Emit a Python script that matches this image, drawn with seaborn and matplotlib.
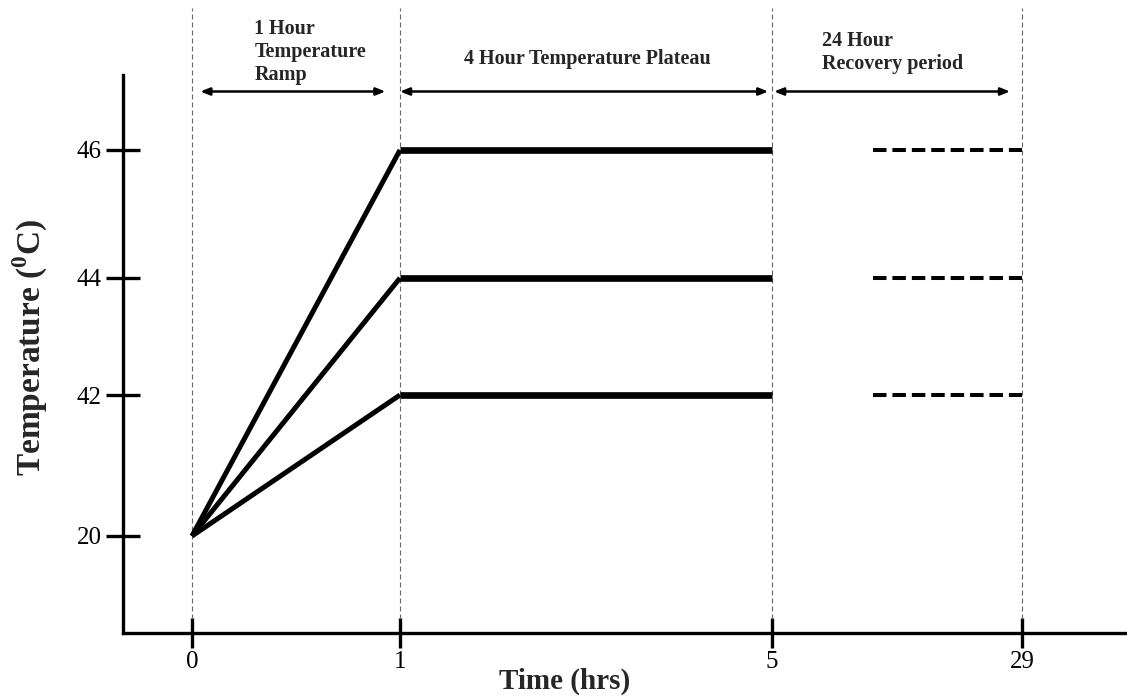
import numpy as np
import pandas as pd
import matplotlib
matplotlib.use("Agg")
import matplotlib.pyplot as plt
import matplotlib.transforms as mtransforms
import seaborn as sns

# ---- data -------------------------------------------------------------
time_ticks = [0, 1, 5, 29]              # hours
temp_ticks = [20, 42, 44, 46]           # degrees C
start_temp = 20
target_temps = [42, 44, 46]
ramp_end = 1
plateau_end = 5
recovery_start = 14.7
recovery_end = 29
phase_labels = ["1 Hour\nTemperature\nRamp",
                "4 Hour Temperature Plateau",
                "24 Hour\nRecovery period"]
phase_arrows = [(0.04, 0.93), (1.0, 4.96), (5.2, 27.85)]
x_label = "Time (hrs)"
y_label = r"Temperature ($^{\mathbf{0}}$C)"

# ---- schematic (piecewise linear) axis scales -------------------------
TIME_POS = [0, 208, 580, 830]
TEMP_POS = [0, 141, 258, 386]


def piecewise(vals, pos):
    vals = np.asarray(vals, float)
    pos = np.asarray(pos, float)

    def build(a, b):
        s0 = (b[1] - b[0]) / (a[1] - a[0])
        s1 = (b[-1] - b[-2]) / (a[-1] - a[-2])

        def f(v):
            v = np.asarray(v, float)
            out = np.interp(v, a, b)
            out = np.where(v < a[0], b[0] + (v - a[0]) * s0, out)
            out = np.where(v > a[-1], b[-1] + (v - a[-1]) * s1, out)
            return out
        return f
    return build(vals, pos), build(pos, vals)


tx_fwd, tx_inv = piecewise(time_ticks, TIME_POS)
ty_fwd, ty_inv = piecewise(temp_ticks, TEMP_POS)

# ---- long-form tables for seaborn --------------------------------------
ramp = pd.DataFrame({
    "level": np.repeat(target_temps, 2),
    "time": [0, ramp_end] * len(target_temps),
    "temp": np.ravel([[start_temp, t] for t in target_temps]),
})
plateau = pd.DataFrame({
    "level": np.repeat(target_temps, 2),
    "time": [ramp_end, plateau_end] * len(target_temps),
    "temp": np.repeat(target_temps, 2),
})
recovery = pd.DataFrame({
    "level": np.repeat(target_temps, 2),
    "time": [recovery_start, recovery_end] * len(target_temps),
    "temp": np.repeat(target_temps, 2),
})

# ---- style --------------------------------------------------------------
sns.set_style("white")
plt.rcParams["font.family"] = ["Liberation Serif", "DejaVu Serif"]
plt.rcParams["mathtext.fontset"] = "custom"
plt.rcParams["mathtext.rm"] = "Liberation Serif:bold"
plt.rcParams["mathtext.bf"] = "Liberation Serif:bold"

W, H = 1127, 697
fig = plt.figure(figsize=(W / 100, H / 100), dpi=100)
ax_left, ax_bottom, ax_top = 123, 633, 5
ax = fig.add_axes([ax_left / W, 1 - ax_bottom / H,
                   (W - ax_left) / W, (ax_bottom - ax_top) / H])
ax.set_xscale("function", functions=(tx_fwd, tx_inv))
ax.set_yscale("function", functions=(ty_fwd, ty_inv))
ax.set_xlim(float(tx_inv(-69)), float(tx_inv(935)))
ax.set_ylim(float(ty_inv(-97)), float(ty_inv(531)))

# phase boundaries
for t in time_ticks:
    ax.axvline(t, ymin=0.022, ymax=0.995, color="#666666", lw=0.8,
               dashes=(4.5, 2.7), zorder=1)

n = len(target_temps)
sns.lineplot(data=ramp, x="time", y="temp", units="level", estimator=None,
             color="black", lw=3.6, ax=ax, zorder=3)
sns.lineplot(data=plateau, x="time", y="temp", units="level", estimator=None,
             color="black", lw=4.8, ax=ax, zorder=3)
sns.lineplot(data=recovery, x="time", y="temp", units="level", estimator=None,
             color="black", lw=2.9, ax=ax, zorder=3)
for line in ax.lines[-3 * n:]:
    line.set_solid_capstyle("butt")
for line in ax.lines[-n:]:
    line.set_dashes((3.35, 1.47))
    line.set_dash_capstyle("butt")

# spines and ticks
for side in ("top", "right"):
    ax.spines[side].set_visible(False)
for side in ("left", "bottom"):
    ax.spines[side].set_linewidth(2.4)
    ax.spines[side].set_color("black")
ax.spines["left"].set_bounds(ax.get_ylim()[0], float(ty_inv(461)))

ax.set_xticks(time_ticks)
ax.set_xticklabels([str(t) for t in time_ticks])
ax.set_yticks(temp_ticks)
ax.set_yticklabels([str(t) for t in temp_ticks])
ax.tick_params(axis="x", bottom=True, direction="inout", length=22, width=2.4,
               pad=2, labelsize=18, colors="black")
ax.tick_params(axis="y", left=True, direction="inout", length=25, width=2.4,
               pad=3, labelsize=18, colors="black")
ax.minorticks_off()

ax.set_xlabel("")
ax.set_ylabel("")
fig.text(565 / W, 1 - 681 / H, x_label, ha="center", va="center",
         fontsize=21, fontweight="bold")
fig.text(30 / W, 1 - 347 / H, y_label, ha="center", va="center",
         rotation=90, fontsize=24, fontweight="bold")

# phase annotations
blend = mtransforms.blended_transform_factory(ax.transData, fig.transFigure)
arrow_y = 1 - 91.5 / H
for x0, x1 in phase_arrows:
    ax.annotate("", xy=(x1, arrow_y), xytext=(x0, arrow_y),
                xycoords=blend, textcoords=blend, annotation_clip=False,
                arrowprops=dict(arrowstyle="<|-|>,head_length=0.55,head_width=0.22",
                                lw=1.8, color="black",
                                shrinkA=0, shrinkB=0))

ax.text(0.30, 1 - 52 / H, phase_labels[0], transform=blend, ha="left",
        va="center", fontsize=14.5, fontweight="bold", linespacing=1.2)
ax.text(3.02, 1 - 59 / H, phase_labels[1], transform=blend, ha="center",
        va="center", fontsize=14.5, fontweight="bold")
ax.text(9.8, 1 - 53 / H, phase_labels[2], transform=blend, ha="left",
        va="center", fontsize=14.5, fontweight="bold", linespacing=1.2)

fig.savefig("out.png", dpi=100, facecolor="white")
